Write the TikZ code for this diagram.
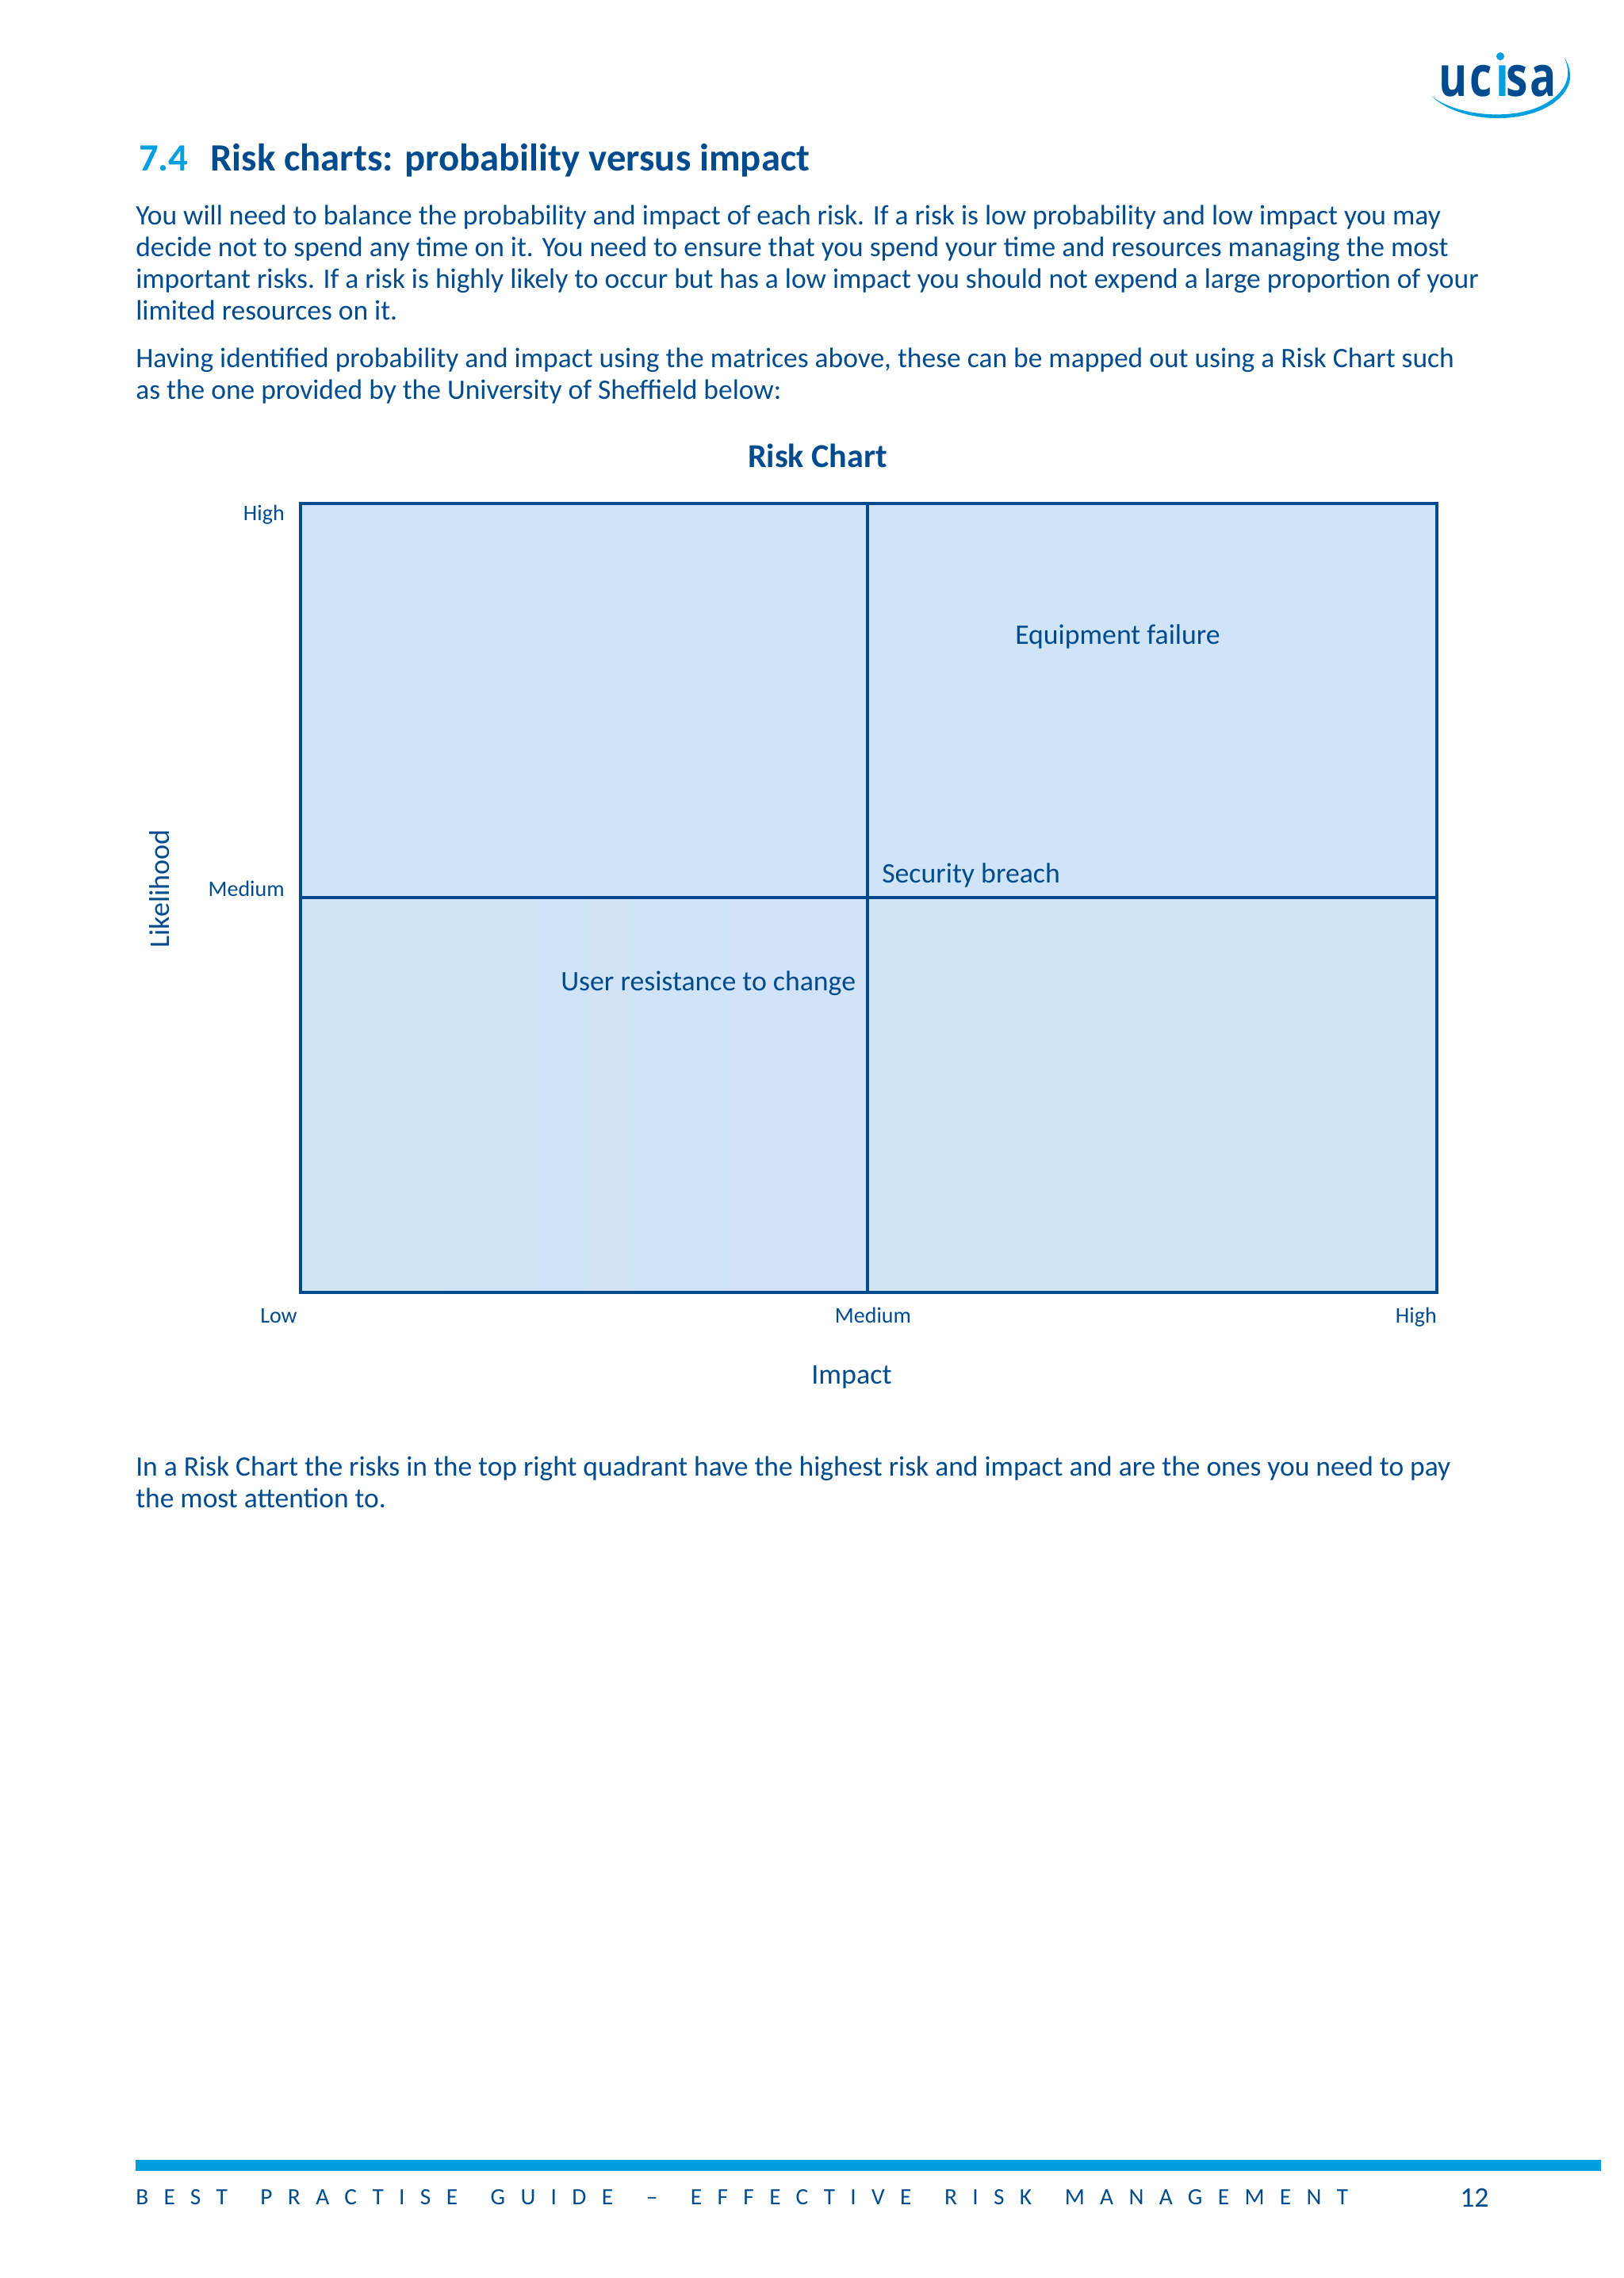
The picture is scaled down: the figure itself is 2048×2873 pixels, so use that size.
\documentclass[tikz,border=0pt]{standalone}
\usepackage{fontspec}
\setmainfont{Carlito}
\newfontfamily\logofont{Open Sans}
\newfontfamily\footerfont[LetterSpace=66,WordSpace=1.6]{Carlito}
\definecolor{ucblue}{RGB}{0,75,141}
\definecolor{uccyan}{RGB}{0,159,223}
\definecolor{quadtop}{RGB}{208,228,248}
\definecolor{quadlow}{RGB}{207,229,243}
\definecolor{quadmid}{RGB}{208,227,249}
\tikzset{
  bodytext/.style={anchor=base west,inner sep=0pt,align=left,text=ucblue,font=\fontsize{26.6}{30}\selectfont},
  risktext/.style={anchor=base west,inner sep=0pt,text=ucblue,font=\fontsize{26.8}{30}\selectfont},
  ticktext/.style={inner sep=0pt,text=ucblue,font=\fontsize{21}{24}\selectfont},
  logotext/.style={anchor=base west,inner sep=0pt,xscale=0.78,font=\logofont\bfseries\fontsize{53}{53}\selectfont},
  gridline/.style={draw=ucblue,line width=3pt}
}
\begin{document}
\begin{tikzpicture}[x=0.75pt,y=0.75pt,yscale=-1,xscale=1]
\useasboundingbox (0,0) rectangle (2048,2873);

%Logo
\node (logou) [logotext,text=ucblue] at (1814,121) {u};
\node (logoc) [logotext,text=ucblue] at (1853,121) {c};
\node (logoi) [logotext,text=uccyan] at (1886,121) {\i};
\node (logos) [logotext,text=ucblue] at (1899,121) {s};
\node (logoa) [logotext,text=ucblue] at (1929,121) {a};
\fill [uccyan] (1892,71) circle (5);
\fill [uccyan] (1805,121) .. controls (1835,150) and (1900,158) .. (1945,138) .. controls (1975,124) and (1990,100) .. (1973,73) .. controls (1985,100) and (1970,122) .. (1940,135) .. controls (1900,152) and (1835,145) .. (1805,121) -- cycle;

%Heading
\node (secnum) [anchor=base west,inner sep=0pt,text=uccyan,font=\bfseries\fontsize{36.5}{38}\selectfont] at (175,215) {7.4};
\node (sectitle) [anchor=base west,inner sep=0pt,text=ucblue,font=\bfseries\fontsize{36.5}{38}\selectfont] at (265,215) {Risk charts: probability versus impact};

%Paragraphs
\node (introa) [bodytext] at (171,403) {You will need to balance the probability and impact of each risk. If a risk is low probability and low impact you may\\decide not to spend any time on it. You need to ensure that you spend your time and resources managing the most\\important risks. If a risk is highly likely to occur but has a low impact you should not expend a large proportion of your\\limited resources on it.};
\node (introb) [bodytext] at (171,503) {Having identified probability and impact using the matrices above, these can be mapped out using a Risk Chart such\\as the one provided by the University of Sheffield below:};

%Chart
\coordinate (nw) at (379,635);
\coordinate (n) at (1094,635);
\coordinate (ne) at (1812,635);
\coordinate (w) at (379,1132);
\coordinate (c) at (1094,1132);
\coordinate (e) at (1812,1132);
\coordinate (sw) at (379,1630);
\coordinate (s) at (1094,1630);
\coordinate (se) at (1812,1630);
\fill [quadtop] (nw) rectangle (e);
\shade [left color=quadlow,right color=quadmid] (w) rectangle (s);
\fill [quadlow] (c) rectangle (se);
\draw [gridline] (nw) rectangle (se);
\draw [gridline] (n) -- (s);
\draw [gridline] (w) -- (e);

\node (charttitle) [inner sep=0pt,text=ucblue,font=\bfseries\fontsize{31.6}{34}\selectfont] at (1031,575) {Risk Chart};
\node (likehigh) [ticktext,anchor=base east] at (359,656) {High};
\node (likemed) [ticktext,anchor=base east] at (359,1130) {Medium};
\node (likelihood) [anchor=base,inner sep=0pt,text=ucblue,rotate=90,font=\fontsize{27}{30}\selectfont] at (213,1121) {Likelihood};
\node (implow) [ticktext,anchor=base east] at (375,1668) {Low};
\node (impmed) [ticktext,anchor=base] at (1101,1668) {Medium};
\node (imphigh) [ticktext,anchor=base east] at (1812,1668) {High};
\node (impact) [anchor=base,inner sep=0pt,text=ucblue,font=\fontsize{27}{30}\selectfont] at (1074,1745) {Impact};

\node (equipment) [risktext] at (1280,812) {Equipment failure};
\node (security) [risktext] at (1112,1113) {Security breach};
\node (userres) [risktext] at (707,1249) {User resistance to change};

\node (outro) [bodytext] at (171,1901) {In a Risk Chart the risks in the top right quadrant have the highest risk and impact and are the ones you need to pay\\the most attention to.};

%Footer
\fill [uccyan] (171,2724) rectangle (2019,2738);
\node (footer) [anchor=base west,inner sep=0pt,text=ucblue,font=\footerfont\fontsize{22}{24}\selectfont] at (171,2780) {BEST PRACTISE GUIDE – EFFECTIVE RISK MANAGEMENT};
\node (pagenum) [anchor=base west,inner sep=0pt,text=ucblue,font=\fontsize{26.8}{30}\selectfont] at (1841,2783) {12};
\end{tikzpicture}
\end{document}
